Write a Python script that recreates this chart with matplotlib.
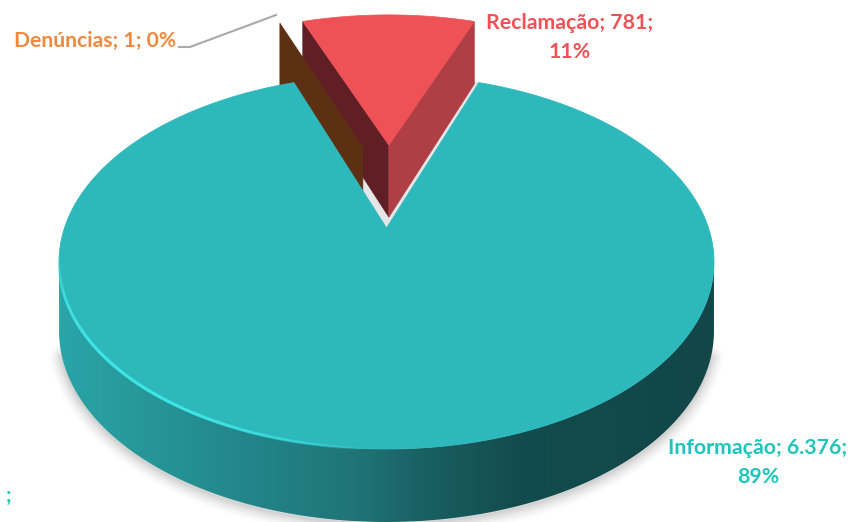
import numpy as np
import matplotlib
matplotlib.use("Agg")
import matplotlib.pyplot as plt
from matplotlib.colors import LinearSegmentedColormap
from matplotlib.patches import Polygon
from matplotlib.collections import LineCollection

# Data
categories = ["Denúncias", "Reclamação", "Informação"]
values = [1, 781, 6376]
label_texts = ["Denúncias; 1; 0%", "Reclamação; 781;\n11%", "Informação; 6.376;\n89%"]
stray_text = ";"

# Styles
FONT = "Lato"
top_colors = {"Reclamação": "#ee5257", "Informação": "#2db8bc"}
text_colors = ["#f0883e", "#ee5257", "#1fc4bd"]
wall_left = {"Denúncias": "#5e3013", "Reclamação": "#5f1f25"}
wall_right = "#b03f45"
side_stops = [(0.0, "#2aa5a8"), (0.10, "#279a9c"), (0.30, "#228488"), (0.46, "#1f7376"),
              (0.55, "#1a6164"), (0.70, "#134c4e"), (1.0, "#124648")]

# Projection of the tilted disc into figure pixels
CX, RX = 386.5, 322.0
Y_BACK, Y_MID, Y_FRONT = 75.0, 228.0, 449.0
C = (2 * Y_MID - Y_BACK - Y_FRONT) / (Y_BACK - Y_FRONT)
A = Y_BACK * (1 + C) - Y_MID


def project(u, v, drop=None):
    u, v = np.asarray(u, float), np.asarray(v, float)
    w = 1 + C * v
    x = CX + RX * u / w
    y = (A * v + Y_MID) / w
    if drop == "body":
        y = y + (68 - 5 * v)
    elif drop == "slice":
        y = y + (77 - 10 * v)
    return np.column_stack([x, y])


def rim(t0, t1, n=200):
    t = np.radians(np.linspace(t0, t1, n))
    return np.sin(t), np.cos(t)


fig = plt.figure(figsize=(8.52, 5.22), dpi=100)
ax = fig.add_axes([0, 0, 1, 1])
ax.set_xlim(0, 852)
ax.set_ylim(522, 0)
ax.axis("off")

# Slice angles from the values (clockwise from the top)
vals = np.array(values, float)
sweep = vals / vals.sum() * 360
start = -sweep[1] / 2 - sweep[0]
edges = start + np.concatenate([[0], np.cumsum(sweep)])

# Informação
t0, t1 = edges[2], edges[3]
tangent = np.degrees(np.arccos(-C))
u, v = rim(tangent, 360 - tangent, 400)
side_top, side_bot = project(u, v), project(u, v, "body")
side_poly = np.vstack([side_top, side_bot[::-1]])

# Soft shadow under the front edge only
shadow = side_bot[18:-18]
for w, a in zip(np.arange(26, 1, -3), [0.012, 0.015, 0.02, 0.025, 0.03, 0.035, 0.04, 0.05, 0.06]):
    ax.plot(shadow[:, 0], shadow[:, 1] + 2, color=(0.35, 0.35, 0.35, a), lw=w * 0.72,
            solid_capstyle="round", zorder=1)

# Gap shadow behind the exploded slices
gu, gv = rim(t1 - 360, t0)
gap = np.vstack([project([0], [0]), project(gu, gv)])
ax.add_patch(Polygon(gap, closed=True, fc="#e6e6e6", ec="none", zorder=1.5))

# Reclamação (exploded)
ex_r = (0.008, 0.50)
ru, rv = rim(edges[1], edges[2])
ru, rv = ru + ex_r[0], rv + ex_r[1]
apex_t = project([ex_r[0]], [ex_r[1]])
apex_b = project([ex_r[0]], [ex_r[1]], "slice")
rtop, rbot = project(ru, rv), project(ru, rv, "slice")
ax.add_patch(Polygon(np.vstack([apex_t, rtop[:1], rbot[:1], apex_b]), closed=True,
                     fc=wall_left["Reclamação"], ec=wall_left["Reclamação"], lw=0.5, zorder=2))
ax.add_patch(Polygon(np.vstack([apex_t, rtop[-1:], rbot[-1:], apex_b]), closed=True,
                     fc=wall_right, ec=wall_right, lw=0.5, zorder=2))
ax.add_patch(Polygon(np.vstack([apex_t, rtop]), closed=True, fc=top_colors["Reclamação"],
                     ec=top_colors["Reclamação"], lw=0.5, zorder=2.1))

# Denúncias (exploded sliver)
ex_d = (-0.08, 0.485)
du, dv = rim(edges[0], edges[1], 3)
du, dv = du + ex_d[0], dv + ex_d[1]
dt_a, db_a = project([ex_d[0]], [ex_d[1]]), project([ex_d[0]], [ex_d[1]], "slice")
dt, db = project(du, dv), project(du, dv, "slice")
ax.add_patch(Polygon(np.vstack([dt_a, dt[:1], db[:1], db_a]), closed=True,
                     fc=wall_left["Denúncias"], ec=wall_left["Denúncias"], lw=0.5, zorder=2.2))

# Informação side with horizontal gradient
cmap = LinearSegmentedColormap.from_list("side", side_stops)
clip = Polygon(side_poly, closed=True, transform=ax.transData, fc="none", ec="none")
ax.add_patch(clip)
img = ax.imshow(np.linspace(0, 1, 512)[None, :], cmap=cmap, aspect="auto",
                extent=(side_poly[:, 0].min(), side_poly[:, 0].max(), 522, 0), zorder=3)
img.set_clip_path(clip)
ax.set_xlim(0, 852)
ax.set_ylim(522, 0)

# Informação top
iu, iv = rim(t0, t1, 600)
top = np.vstack([project([0], [0]), project(iu, iv)])
ax.add_patch(Polygon(top, closed=True, fc=top_colors["Informação"], ec=top_colors["Informação"],
                     lw=0.6, zorder=4))

# Bright bevel along the front-left rim
hu, hv = rim(182, 262, 220)
pts = project(hu, hv)
segs = np.stack([pts[:-1], pts[1:]], axis=1)
s = np.linspace(0, 1, len(segs))
alpha = np.clip(np.sin(np.pi * s) ** 1.1, 0, 1) * 0.9
colors = np.column_stack([np.tile([0.25, 0.90, 0.90], (len(segs), 1)), alpha])
ax.add_collection(LineCollection(segs, colors=colors, linewidths=2.2, capstyle="round", zorder=4.5))

# Leader line
ax.plot([179, 190, 276], [47, 47, 15], color="#aaaaaa", lw=1.5, solid_joinstyle="round", zorder=5)

# Labels
ax.text(95, 41, label_texts[0], color=text_colors[0], ha="center", va="center",
        fontsize=15.2, fontweight="bold", family=FONT, zorder=6)
ax.text(570, 37.5, label_texts[1], color=text_colors[1], ha="center", va="center", linespacing=1.55,
        fontsize=15.3, fontweight="bold", family=FONT, zorder=6)
ax.text(758, 462.5, label_texts[2], color=text_colors[2], ha="center", va="center", linespacing=1.55,
        fontsize=15.3, fontweight="bold", family=FONT, zorder=6)
ax.text(9, 496, stray_text, color=text_colors[2], ha="center", va="center",
        fontsize=15, fontweight="bold", family=FONT, zorder=6)

fig.savefig("out.png", dpi=100)
